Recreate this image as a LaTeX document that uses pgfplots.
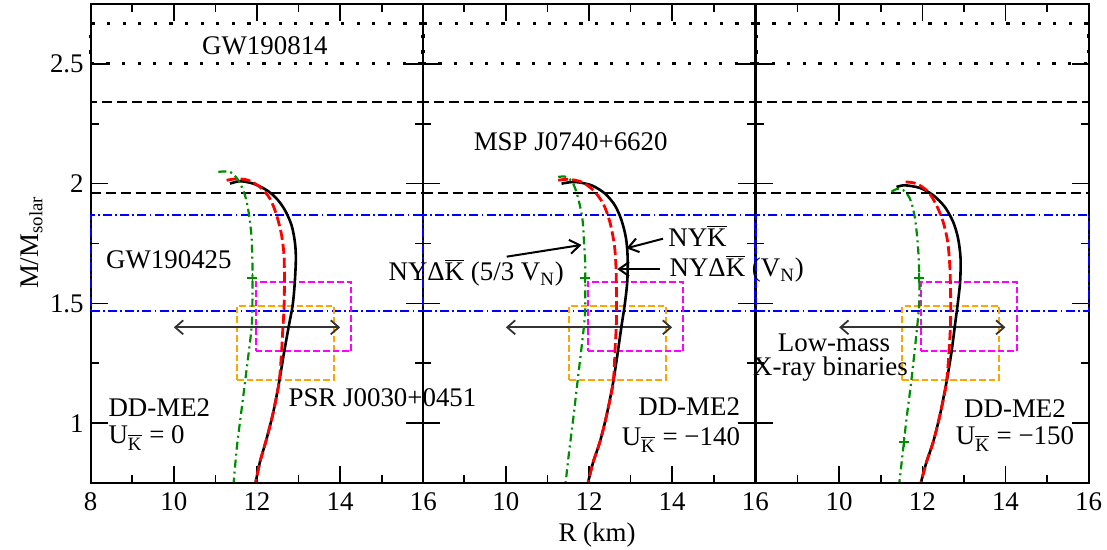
\documentclass[border=0pt]{standalone}
\usepackage{fontspec}
\setmainfont{Liberation Serif}
\usepackage{pgfplots}
\pgfplotsset{compat=1.18}
\usetikzlibrary{arrows.meta}

\definecolor{dgreen}{RGB}{0,140,0}
\definecolor{orng}{RGB}{255,165,0}
\definecolor{mgnt}{RGB}{255,0,255}

\newcommand{\Kb}{$\overline{\mbox{K}}$}

\pgfplotsset{
 panel/.style={
  scale only axis, width=166.3bp, height=239.5bp,
  xmin=8,xmax=16,ymin=0.75,ymax=2.75,
  xtick={8,10,12,14,16}, minor x tick num=1,
  ytick={1,1.5,2,2.5}, minor y tick num=1,
  tick align=inside, major tick length=8.5bp, minor tick length=4bp,
  every tick/.style={black,line width=0.8bp},
  axis line style={line width=1bp},
  clip=false,
  anchor=south west,
  /pgf/number format/assume math mode=true,
  tick label style={font=\fontsize{13.5}{16}\selectfont},
  xticklabel style={yshift=-1.5bp},
 },
 gwa/.style={black, line width=1.6bp, dash pattern=on 1.6bp off 6.2bp},
 msp/.style={black, line width=1bp, dash pattern=on 5bp off 2.5bp},
 gwb/.style={blue, line width=1bp, dash pattern=on 4.5bp off 1.6bp on 0.9bp off 1.6bp},
 obox/.style={orng, line width=0.9bp, dash pattern=on 3.3bp off 1.5bp},
 mbox/.style={mgnt, line width=0.9bp, dash pattern=on 3.3bp off 1.5bp},
 darr/.style={black!80, line width=0.9bp, {Straight Barb[length=4bp,width=7bp]}-{Straight Barb[length=4bp,width=7bp]}},
 aarr/.style={black, line width=1bp, -{Straight Barb[length=5bp,width=7bp]}},
 cblack/.style={black, line width=1.3bp, smooth},
 cred/.style={red, line width=1.4bp, dash pattern=on 5bp off 2bp, smooth},
 cgreen/.style={dgreen, line width=1.1bp, dash pattern=on 4bp off 2bp on 1bp off 2bp, smooth},
 gmark/.style={dgreen, only marks, mark=+, mark size=2.5bp, mark options={line width=0.8bp}},
}

\newcommand{\bands}{%
 \addplot[gwa] coordinates {(8,2.50)(16,2.50)(16,2.67)(8,2.67)(8,2.50)};
 \addplot[msp] coordinates {(8,1.96)(16,1.96)(16,2.34)(8,2.34)(8,1.96)};
 \addplot[gwb] coordinates {(8,1.47)(16,1.47)(16,1.87)(8,1.87)(8,1.47)};
 \addplot[obox] coordinates {(11.52,1.18)(13.85,1.18)(13.85,1.49)(11.52,1.49)(11.52,1.18)};
 \addplot[mbox] coordinates {(11.97,1.30)(14.27,1.30)(14.27,1.59)(11.97,1.59)(11.97,1.30)};
 \addplot[darr] coordinates {(10,1.40)(14,1.40)};
}

\begin{document}
\begin{tikzpicture}[font=\fontsize{13.5}{16}\selectfont]
\path[use as bounding box] (0,0) rectangle (553.5bp,275bp);

% ---------- panel 1 ----------
\begin{axis}[panel, at={(45.35bp,33.5bp)}]
\bands
\addplot[cblack] coordinates {(11.35,2.0)(11.59,2.01)(11.91,2.0)(12.23,1.973)(12.47,1.938)(12.67,1.89)(12.83,1.827)(12.91,1.758)(12.935,1.69)(12.91,1.59)(12.86,1.495)(12.77,1.41)(12.65,1.294)(12.53,1.169)(12.39,1.044)(12.23,0.934)(12.07,0.837)(11.97,0.754)};
\addplot[cred] coordinates {(11.27,2.014)(11.51,2.02)(11.79,2.014)(12.07,1.986)(12.31,1.938)(12.47,1.869)(12.59,1.786)(12.65,1.70)(12.66,1.59)(12.65,1.48)(12.62,1.39)(12.59,1.294)(12.53,1.169)(12.39,1.044)(12.23,0.934)(12.07,0.837)(11.97,0.754)};
\addplot[cgreen] coordinates {(11.07,2.049)(11.35,2.049)(11.55,2.014)(11.71,1.952)(11.81,1.869)(11.87,1.772)(11.89,1.661)(11.89,1.522)(11.87,1.40)(11.75,1.224)(11.63,1.058)(11.52,0.906)(11.44,0.754)};
\addplot[gmark] coordinates {(11.89,1.606)};
\node[anchor=base, inner sep=0] at (axis cs:12.19,2.541) {GW190814};
\node[anchor=base, inner sep=0] at (axis cs:9.88,1.647) {GW190425};
\node[anchor=base west, inner sep=0] at (axis cs:8.42,1.029) {DD-ME2};
\node[anchor=base west, inner sep=0] at (axis cs:8.42,0.913) {U\textsubscript{\Kb} = 0};
\node[anchor=base west, inner sep=0] at (axis cs:12.75,1.071) {PSR J0030+0451};
\end{axis}

% ---------- panel 2 ----------
\begin{axis}[panel, at={(211.35bp,33.5bp)}, xticklabels={,10,12,14,16}, yticklabels={}]
\bands
\addplot[cblack] coordinates {(11.34,2.0)(11.66,2.007)(12.06,1.993)(12.38,1.959)(12.62,1.91)(12.78,1.848)(12.89,1.772)(12.93,1.689)(12.92,1.59)(12.86,1.495)(12.79,1.415)(12.69,1.294)(12.58,1.169)(12.42,1.03)(12.26,0.92)(12.10,0.837)(11.98,0.754)};
\addplot[cred] coordinates {(11.26,2.014)(11.5,2.018)(11.82,2.007)(12.10,1.973)(12.34,1.917)(12.50,1.841)(12.61,1.744)(12.65,1.647)(12.66,1.536)(12.66,1.425)(12.63,1.32)(12.58,1.169)(12.42,1.03)(12.26,0.92)(12.10,0.837)(11.98,0.754)};
\addplot[cgreen] coordinates {(11.26,2.028)(11.46,2.028)(11.62,2.0)(11.74,1.938)(11.84,1.855)(11.88,1.758)(11.91,1.661)(11.91,1.522)(11.89,1.425)(11.74,1.197)(11.62,1.017)(11.52,0.878)(11.44,0.754)};
\addplot[gmark] coordinates {(11.91,1.606)};
\addplot[aarr] coordinates {(10.02,1.695)(11.82,1.744)};
\addplot[aarr] coordinates {(13.78,1.77)(12.90,1.73)};
\addplot[aarr] coordinates {(13.71,1.643)(12.68,1.643)};
\node[anchor=base west, inner sep=0] at (axis cs:9.22,2.139) {MSP J0740+6620};
\node[anchor=base west, inner sep=0] at (axis cs:13.90,1.736) {NY\Kb};
\node[anchor=base west, inner sep=0] at (axis cs:13.93,1.611) {NYΔ\Kb{} (V\textsubscript{N})};
\node[anchor=base west, inner sep=0] at (axis cs:7.17,1.594) {NYΔ\Kb{} (5/3 V\textsubscript{N})};
\node[anchor=base, inner sep=0] at (axis cs:14.41,1.03) {DD-ME2};
\node[anchor=base, inner sep=0] at (axis cs:14.21,0.906) {U\textsubscript{\Kb} = −140};
\end{axis}

% ---------- panel 3 ----------
\begin{axis}[panel, at={(378bp,33.5bp)}, xticklabels={,10,12,14,16}, yticklabels={}]
\bands
\addplot[cblack] coordinates {(11.38,1.986)(11.58,1.993)(11.94,1.982)(12.26,1.952)(12.54,1.903)(12.74,1.841)(12.86,1.772)(12.92,1.689)(12.91,1.59)(12.85,1.495)(12.79,1.415)(12.70,1.294)(12.58,1.169)(12.42,1.03)(12.26,0.92)(12.10,0.837)(11.97,0.754)};
\addplot[cred] coordinates {(11.60,2.007)(11.86,2.0)(12.14,1.966)(12.34,1.91)(12.50,1.841)(12.61,1.758)(12.66,1.661)(12.68,1.55)(12.68,1.425)(12.65,1.32)(12.58,1.169)(12.42,1.03)(12.26,0.92)(12.10,0.837)(11.97,0.754)};
\addplot[cgreen] coordinates {(11.26,1.966)(11.38,1.977)(11.54,1.973)(11.70,1.938)(11.81,1.869)(11.88,1.772)(11.92,1.661)(11.93,1.522)(11.89,1.425)(11.74,1.183)(11.62,1.017)(11.53,0.878)(11.45,0.754)};
\addplot[gmark] coordinates {(11.92,1.606)(11.56,0.92)};
\node[anchor=base, inner sep=0] at (axis cs:9.875,1.30) {Low-mass};
\node[anchor=base, inner sep=0] at (axis cs:9.79,1.20) {X-ray binaries};
\node[anchor=base, inner sep=0] at (axis cs:14.23,1.025) {DD-ME2};
\node[anchor=base, inner sep=0] at (axis cs:14.23,0.91) {U\textsubscript{\Kb} = −150};
\end{axis}

% axis titles
\node[anchor=base, inner sep=0] at (298.5bp,4.2bp) {R (km)};
\node[anchor=base, inner sep=0, rotate=90] at (19bp,153.75bp) {M/M\textsubscript{solar}};
\end{tikzpicture}
\end{document}
